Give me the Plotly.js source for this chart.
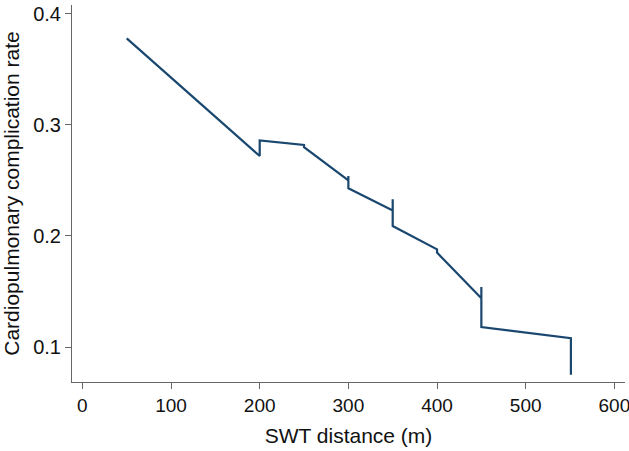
<!DOCTYPE html>
<html>
<head>
<meta charset="utf-8">
<script src="https://cdn.plot.ly/plotly-3.0.1.min.js"></script>
<style>html,body{margin:0;padding:0;background:#fff;}#chart{width:629px;height:451px;}</style>
</head>
<body>
<div id="chart"></div>
<script>
// SWT distance (m) and estimated cardiopulmonary complication rate (path incl. vertical steps)
const swtDistance = [50, 200, 200, 250, 250, 300, 300, 300, 350, 350, 350, 400, 400, 450, 450, 450, 551, 551];
const complicationRate = [0.378, 0.272, 0.286, 0.282, 0.280, 0.250, 0.254, 0.243, 0.223, 0.233, 0.209, 0.188, 0.185, 0.144, 0.154, 0.118, 0.108, 0.075];
const xTicks = [0, 100, 200, 300, 400, 500, 600];
const yTicks = [0.1, 0.2, 0.3, 0.4];
const yTickLabels = ["0.1", "0.2", "0.3", "0.4"];

const font = "Liberation Sans, Arial, Helvetica, sans-serif";
Plotly.newPlot("chart", [{
  x: swtDistance,
  y: complicationRate,
  type: "scatter",
  mode: "lines",
  line: {color: "#1a476f", width: 2.2},
  hoverinfo: "skip"
}], {
  width: 629, height: 451,
  margin: {l: 72, r: 4, t: 5, b: 69},
  paper_bgcolor: "#ffffff",
  plot_bgcolor: "#ffffff",
  showlegend: false,
  font: {family: font, color: "#111", size: 19},
  xaxis: {
    range: [-11.7, 612],
    tickvals: xTicks,
    ticks: "outside", ticklen: 6, tickcolor: "#666", tickwidth: 1,
    showline: true, linecolor: "#666", linewidth: 1,
    showgrid: false, zeroline: false,
    ticklabeloverflow: "allow",
    tickfont: {family: font, size: 19, color: "#111"},
    title: {text: "SWT distance (m)", font: {family: font, size: 21, color: "#111"}, standoff: 13}
  },
  yaxis: {
    range: [0.0685, 0.408],
    tickvals: yTicks,
    ticktext: yTickLabels,
    ticks: "outside", ticklen: 6, tickcolor: "#666", tickwidth: 1,
    showline: true, linecolor: "#666", linewidth: 1,
    showgrid: false, zeroline: false,
    ticklabeloverflow: "allow",
    tickfont: {family: font, size: 20, color: "#111"},
    title: {text: "Cardiopulmonary complication rate", font: {family: font, size: 21, color: "#111"}, standoff: 8}
  }
}, {displayModeBar: false, staticPlot: true});
</script>
</body>
</html>
